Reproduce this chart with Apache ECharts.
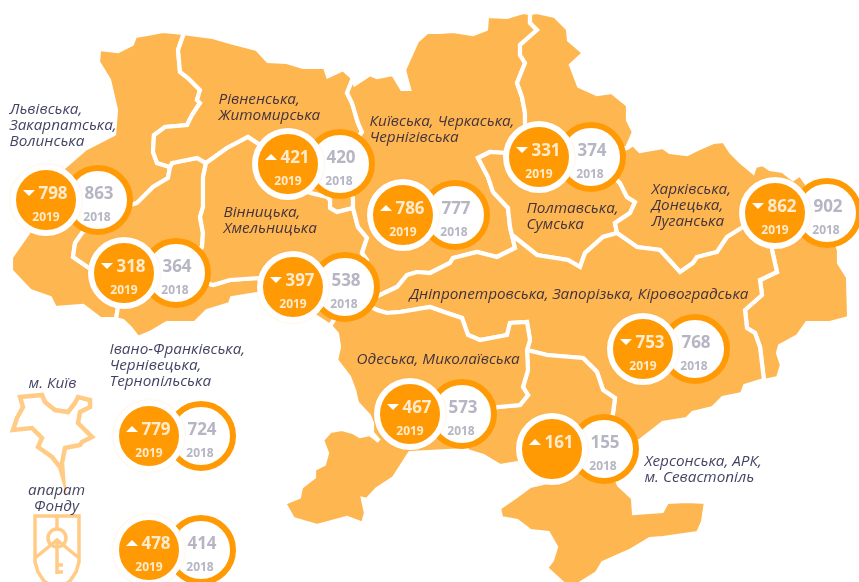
<!DOCTYPE html>
<html>
<head>
<meta charset="utf-8">
<style>
  html, body { margin: 0; padding: 0; background: #fff; }
  #main { width: 859px; height: 582px; }
</style>
<script src="https://cdn.jsdelivr.net/npm/echarts@6/dist/echarts.min.js"></script>
</head>
<body>
<div id="main"></div>
<script>
// values, one entry per pair of circles
var values2019 = [798, 318, 421, 786, 397, 331, 862, 753, 161, 467, 779, 478];
var values2018 = [863, 364, 420, 777, 538, 374, 902, 768, 155, 573, 724, 414];
var yearLabels2019 = ['2019', '2019', '2019', '2019', '2019', '2019', '2019', '2019', '', '2019', '2019', '2019'];
var yearLabels2018 = ['2018', '2018', '2018', '2018', '2018', '2018', '2018', '2018', '2018', '2018', '2018', '2018'];

// where each pair sits on the map
var pairX = [46, 124, 288, 403, 293, 539, 775, 643, 552, 410, 149, 149];
var pairY = [200, 273, 164, 215, 287, 157, 213, 349, 449, 414, 436, 550];

var regionLabels = [
    'Львівська,\nЗакарпатська,\nВолинська',
    'Рівненська,\nЖитомирська',
    'Вінницька,\nХмельницька',
    'Київська, Черкаська,\nЧернігівська',
    'Полтавська,\nСумська',
    'Харківська,\nДонецька,\nЛуганська',
    'Дніпропетровська, Запорізька, Кіровоградська',
    'Одеська, Миколаївська',
    'Херсонська, АРК,\nм. Севастопіль',
    'Івано-Франківська,\nЧернівецька,\nТернопільська'
];
var regionLabelX = [10, 219, 224, 370, 527, 652, 410, 357, 645, 110];
var regionLabelY = [126, 108, 221, 130, 217, 206, 295, 360, 470, 366];

var iconLabels = ['м. Київ', 'апарат\nФонду'];
var iconLabelX = [53, 57];
var iconLabelY = [384, 499];

// map outline, traced in picture pixels. borders run between the junctions
var J1 = [170, 167], J2 = [206, 163], J3 = [353, 208], J4 = [512, 235], J5 = [617, 233],
    J6 = [527, 350], J7 = [350, 295], A = [184, 33], B = [353, 78], C = [530, 13], D = [627, 148];

var westRivne = [A, [178, 50], [180, 72], [188, 78], [200, 90], [197, 100], [200, 103], [192, 115], [187, 125], [165, 127], [154, 135], [153, 152], [157, 163], J1];
var westIf = [J1, [168, 178], [153, 187], [150, 190], [137, 203], [100, 215], [82, 233], [75, 243], [73, 257], [92, 270], [124, 273], [118, 307], [116, 318]];
var ifRivne = [J1, [172, 163], [197, 158], J2];
var ifVin = [J2, [203, 177], [203, 207], [200, 217], [203, 233], [202, 247], [176, 273], [213, 285], [230, 280], [258, 278], [293, 287]];
var rivneVin = [J2, [227, 148], [248, 137], [257, 143], [288, 164], [310, 193], [327, 197], [330, 200], [330, 208], [337, 212], J3];
var rivneKyiv = [B, [347, 93], [352, 103], [358, 123], [362, 132], [340, 164], [353, 198], J3];
var vinKyiv = [J3, [358, 227], [367, 238], [362, 253], [367, 260], J7];
var kyivPoltava = [C, [530, 23], [537, 30], [520, 45], [520, 55], [525, 63], [517, 83], [522, 97], [525, 113], [525, 123], [539, 157], [505, 153], [490, 152], [478, 158], [488, 177], [493, 192], [508, 208], [510, 227], J4];
var kyivDnipro = [J7, [378, 296], [397, 287], [407, 275], [417, 272], [430, 273], [450, 263], [453, 258], [477, 252], [497, 257], [515, 248], J4];
var poltavaDnipro = [J4, [537, 255], [568, 260], [580, 267], [585, 253], [603, 237], J5];
var poltavaKharkiv = [D, [591, 157], [620, 183], [627, 197], [635, 202], [630, 213], [615, 223], J5];
var kharkivDnipro = [J5, [637, 247], [660, 250], [680, 272], [693, 263], [697, 257], [717, 252], [727, 237], [743, 227], [775, 213], [772, 250], [777, 272], [760, 280], [762, 295], [745, 310], [747, 328], [755, 333], [760, 347], [764, 380]];
var odesaDnipro = [J7, [377, 310], [387, 313], [400, 312], [430, 307], [447, 313], [462, 318], [468, 335], [480, 340], [507, 335], [510, 323], [527, 322], [530, 340], J6];
var odesaKherson = [J6, [528, 370], [523, 387], [528, 395], [520, 405], [498, 407], [462, 414], [467, 450]];
var khersonDnipro = [J6, [547, 355], [583, 358], [597, 372], [603, 390], [615, 398], [613, 413], [604, 449]];

var outerWest = [A, [163, 31], [147, 34], [135, 36], [132, 44], [118, 51], [99, 49], [98, 62], [109, 80], [116, 110], [114, 134], [85, 149], [63, 168], [46, 200], [28, 233], [11, 257], [11, 271], [30, 291], [50, 298], [55, 308], [83, 306], [100, 319], [116, 319]];
var outerIf = [[293, 294], [257, 294], [232, 298], [230, 304], [207, 311], [195, 323], [167, 323], [150, 333], [138, 338], [130, 328], [123, 321], [116, 319]];
var outerRivne = [A, [190, 34], [213, 37], [230, 42], [257, 49], [268, 61], [287, 62], [303, 67], [325, 67], [328, 76], [343, 69], B];
var outerVin = [[293, 287], [315, 316], [330, 326], J7];
var outerKyiv = [B, [355, 84], [370, 74], [377, 77], [393, 74], [402, 89], [409, 89], [404, 70], [417, 41], [427, 32], [440, 32], [453, 31], [473, 34], [486, 29], [487, 16], [507, 17], [523, 12], C];
var outerPoltava = [C, [537, 12], [555, 16], [568, 29], [569, 40], [584, 53], [571, 65], [579, 86], [597, 94], [612, 92], [628, 105], [628, 120], [634, 132], D];
var outerKharkiv = [D, [633, 144], [640, 151], [663, 147], [670, 152], [687, 154], [697, 149], [713, 142], [724, 141], [731, 152], [741, 162], [753, 172], [755, 166], [763, 164], [770, 169], [783, 171], [793, 179], [800, 174], [827, 213], [839, 250], [839, 263], [848, 277], [849, 313], [849, 318], [830, 323], [807, 323], [798, 336], [780, 346], [778, 353], [782, 365], [778, 378], [764, 381]];
var outerDnipro = [[764, 381], [745, 386], [742, 394], [723, 398], [713, 408], [693, 413], [687, 419], [663, 423], [640, 441], [604, 449]];
var outerKherson = [[604, 449], [619, 485], [633, 498], [634, 513], [662, 511], [667, 502], [687, 501], [706, 502], [703, 522], [698, 533], [663, 538], [650, 539], [630, 551], [603, 563], [597, 573], [570, 590], [546, 568], [552, 560], [556, 547], [548, 533], [530, 531], [517, 521], [501, 518], [499, 508], [515, 497], [530, 486], [543, 483], [552, 449], [518, 463], [500, 466], [483, 456], [467, 451]];
var outerOdesa = [[467, 451], [410, 453], [394, 478], [377, 489], [367, 500], [363, 499], [366, 513], [363, 524], [347, 518], [317, 526], [293, 519], [284, 503], [299, 497], [301, 487], [314, 477], [314, 469], [324, 464], [327, 453], [322, 440], [330, 431], [342, 429], [353, 432], [360, 436], [370, 434], [379, 441], [372, 433], [372, 423], [369, 416], [357, 403], [354, 390], [349, 377], [336, 360], [339, 347], [337, 334], [330, 326], J7];

// the two small icons on the left
var kyivIcon = [[20, 397], [42, 395], [45, 402], [55, 410], [68, 412], [75, 403], [78, 397], [90, 400], [90, 407], [80, 412], [78, 423], [92, 437], [82, 442], [80, 445], [65, 448], [62, 463], [63, 477], [60, 467], [52, 457], [38, 447], [42, 438], [32, 428], [13, 430], [17, 418], [23, 407]];
var shieldIcon = [[35, 516], [79, 516], [79, 562], [76, 572], [70, 581], [63, 586], [57, 588], [51, 586], [44, 581], [38, 572], [35, 562]];
var keyLines = [
    [[57, 516], [57, 529]],
    [[35, 558], [57, 540], [79, 558]],
    [[57, 540], [57, 574]],
    [[57, 565], [63, 565]],
    [[57, 572], [63, 572]]
];

function rev(line) {
    return line.slice().reverse();
}
function region(name, parts) {
    var ring = [];
    parts.forEach(function (p) {
        ring = ring.concat(p);
    });
    return { type: 'Feature', properties: { name: name }, geometry: { type: 'Polygon', coordinates: [ring] } };
}

var mapJson = {
    type: 'FeatureCollection',
    features: [
        region('Львівська, Закарпатська, Волинська', [outerWest, rev(westIf), rev(westRivne)]),
        region('Івано-Франківська, Чернівецька, Тернопільська', [ifRivne, ifVin, outerIf, rev(westIf)]),
        region('Рівненська, Житомирська', [outerRivne, rivneKyiv, rev(rivneVin), rev(ifRivne), rev(westRivne)]),
        region('Вінницька, Хмельницька', [rivneVin, vinKyiv, rev(outerVin), rev(ifVin)]),
        region('Київська, Черкаська, Чернігівська', [outerKyiv, kyivPoltava, rev(kyivDnipro), rev(vinKyiv), rev(rivneKyiv)]),
        region('Полтавська, Сумська', [outerPoltava, poltavaKharkiv, rev(poltavaDnipro), rev(kyivPoltava)]),
        region('Харківська, Донецька, Луганська', [outerKharkiv, rev(kharkivDnipro), rev(poltavaKharkiv)]),
        region('Дніпропетровська, Запорізька, Кіровоградська', [kyivDnipro, poltavaDnipro, kharkivDnipro, outerDnipro, rev(khersonDnipro), rev(odesaDnipro)]),
        region('Херсонська, АРК, м. Севастопіль', [khersonDnipro, outerKherson, rev(odesaKherson)]),
        region('Одеська, Миколаївська', [odesaDnipro, odesaKherson, outerOdesa])
    ]
};
echarts.registerMap('ukraine', mapJson);

var ORANGE = '#ff9a05';
var GREY = '#a2a2b4';
var NAVY = '#10103a';
var ICON = '#ffcb85';
var FONT = '"Open Sans", sans-serif';
var PAIR_GAP = 52;

function at2019(i) { return [pairX[i], pairY[i]]; }
function at2018(i) { return [pairX[i] + PAIR_GAP, pairY[i]]; }

function textSeries(points, texts, color, size, dx, dy) {
    return {
        type: 'scatter',
        coordinateSystem: 'geo',
        silent: true,
        z: 6,
        symbolSize: 1,
        itemStyle: { color: 'transparent' },
        label: {
            show: true,
            position: 'inside',
            offset: [dx, dy],
            formatter: function (p) { return texts[p.dataIndex]; },
            color: color,
            fontFamily: FONT,
            fontWeight: 'bold',
            fontSize: size
        },
        data: points
    };
}

function placeLabels(xs, ys, texts, align) {
    return {
        type: 'scatter',
        coordinateSystem: 'geo',
        silent: true,
        z: 6,
        symbolSize: 1,
        itemStyle: { color: 'transparent' },
        label: {
            show: true,
            position: [0, 0],
            align: align,
            verticalAlign: 'middle',
            formatter: function (p) { return texts[p.dataIndex]; },
            color: NAVY,
            fontFamily: FONT,
            fontStyle: 'italic',
            fontSize: 15.3,
            lineHeight: 16
        },
        data: xs.map(function (x, i) { return [x, ys[i]]; })
    };
}

var iconStyle = { fill: null, stroke: ICON, lineWidth: 3.5 };
var iconGraphics = [
    { type: 'polygon', silent: true, shape: { points: kyivIcon }, style: { fill: null, stroke: ICON, lineWidth: 4.5 } },
    { type: 'polygon', silent: true, shape: { points: shieldIcon }, style: iconStyle },
    { type: 'circle', silent: true, shape: { cx: 57, cy: 538, r: 9 }, style: iconStyle }
].concat(keyLines.map(function (pts) {
    return { type: 'polyline', silent: true, shape: { points: pts }, style: iconStyle };
}));

var option = {
    animation: false,
    backgroundColor: '#fff',
    geo: {
        map: 'ukraine',
        roam: false,
        silent: true,
        left: 0,
        top: 0,
        right: 0,
        bottom: 0,
        boundingCoords: [[0, 0], [859, 582]],
        projection: {
            project: function (p) { return p; },
            unproject: function (p) { return p; }
        },
        label: { show: false },
        itemStyle: { areaColor: '#feb650', borderColor: '#fff', borderWidth: 4.2 }
    },
    graphic: iconGraphics,
    series: [{
        // ring with the 2018 value
        type: 'scatter',
        coordinateSystem: 'geo',
        silent: true,
        z: 3,
        symbolSize: 64,
        itemStyle: { color: '#fff', borderColor: ORANGE, borderWidth: 6, opacity: 1 },
        data: values2018.map(function (v, i) { return at2018(i); })
    }, {
        // solid circle with the 2019 value
        type: 'scatter',
        coordinateSystem: 'geo',
        silent: true,
        z: 4,
        symbolSize: 66,
        itemStyle: { color: ORANGE, borderColor: '#fff', borderWidth: 6, opacity: 1, shadowBlur: 2, shadowColor: 'rgba(255,154,5,0.25)' },
        data: values2019.map(function (v, i) { return at2019(i); })
    }, {
        // up or down against 2018
        type: 'scatter',
        coordinateSystem: 'geo',
        silent: true,
        z: 5,
        symbol: 'triangle',
        symbolSize: [12, 6],
        symbolOffset: [-17, -7],
        symbolRotate: function (v, p) {
            return values2019[p.dataIndex] < values2018[p.dataIndex] ? 180 : 0;
        },
        itemStyle: { color: '#fff', opacity: 1 },
        data: values2019.map(function (v, i) { return at2019(i); })
    },
    textSeries(values2019.map(function (v, i) { return at2019(i); }), values2019, '#fff', 17, 7, -6),
    textSeries(values2019.map(function (v, i) { return at2019(i); }), yearLabels2019, '#fff', 12, 0, 18),
    textSeries(values2018.map(function (v, i) { return at2018(i); }), values2018, GREY, 17, 1, -6),
    textSeries(values2018.map(function (v, i) { return at2018(i); }), yearLabels2018, GREY, 12, -1, 18),
    placeLabels(regionLabelX, regionLabelY, regionLabels, 'left'),
    placeLabels(iconLabelX, iconLabelY, iconLabels, 'center')
    ]
};

var myChart = echarts.init(document.getElementById('main'));
myChart.setOption(option);
</script>
</body>
</html>
